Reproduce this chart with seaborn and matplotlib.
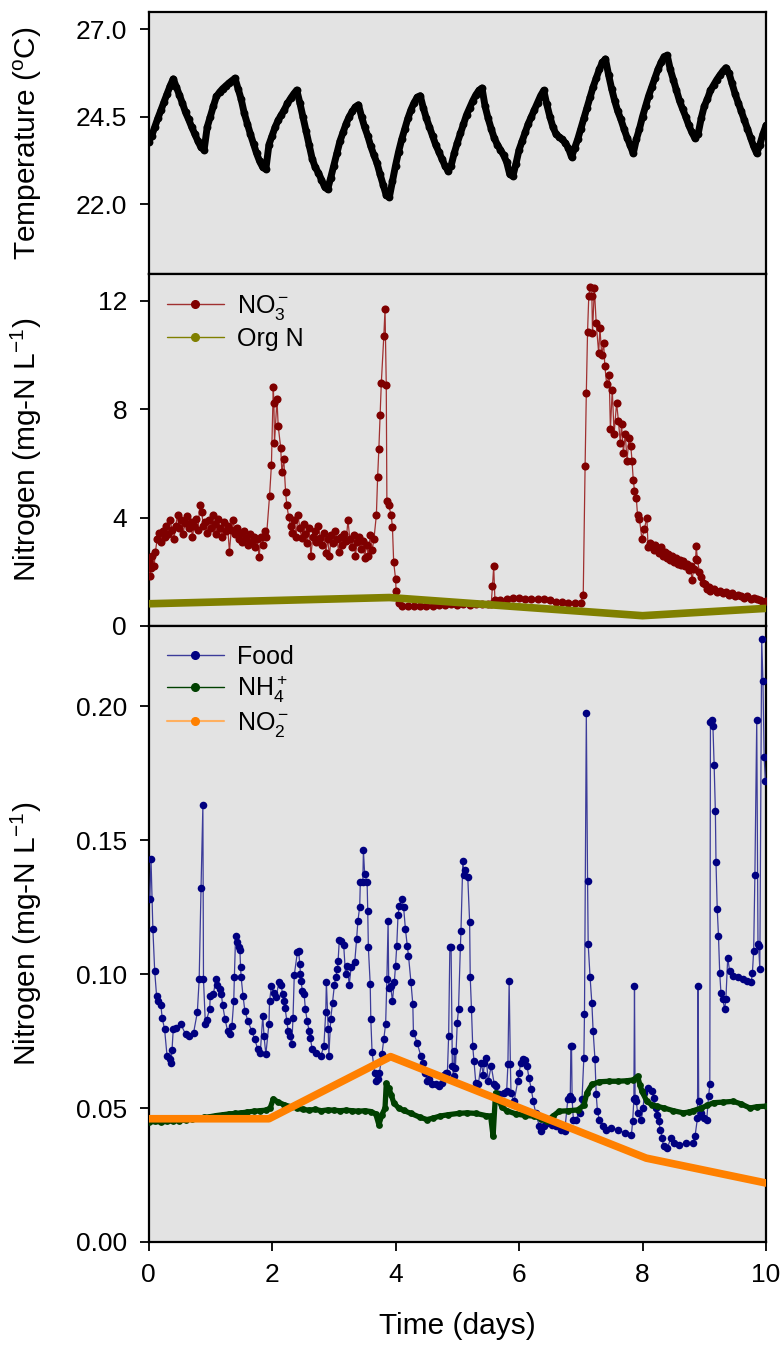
import matplotlib
matplotlib.use("Agg")
import matplotlib.pyplot as plt
import seaborn as sns
from matplotlib.lines import Line2D
from matplotlib.ticker import FormatStrFormatter

# ---------------- data ----------------
temp_step_days = 0.05
temp_c = [
    23.78, 23.95, 24.2, 24.45, 24.68, 24.92, 25.15, 25.38, 25.58, 25.35, 25.12, 24.88, 24.62, 24.42, 24.2, 24.0, 23.8, 23.62, 23.55, 24.2,
    24.5, 24.8, 25.08, 25.2, 25.3, 25.38, 25.46, 25.53, 25.6, 25.3, 25.0, 24.6, 24.3, 24.0, 23.72, 23.45, 23.22, 23.05, 23.0, 23.7,
    23.95, 24.2, 24.4, 24.55, 24.7, 24.88, 25.02, 25.15, 25.26, 24.9, 24.5, 24.1, 23.7, 23.3, 23.05, 22.9, 22.7, 22.5, 22.42, 22.75,
    23.1, 23.45, 23.8, 24.05, 24.3, 24.5, 24.65, 24.78, 24.84, 24.5, 24.2, 23.95, 23.65, 23.4, 23.17, 22.85, 22.55, 22.25, 22.2, 22.65,
    23.1, 23.5, 23.85, 24.15, 24.45, 24.7, 24.9, 25.05, 25.1, 24.75, 24.45, 24.2, 23.95, 23.7, 23.5, 23.3, 23.1, 22.95, 23.1, 23.45,
    23.75, 24.02, 24.3, 24.55, 24.75, 24.95, 25.12, 25.25, 25.32, 24.8, 24.45, 24.15, 23.88, 23.7, 23.55, 23.4, 23.2, 22.85, 22.8, 23.15,
    23.55, 23.8, 24.05, 24.3, 24.5, 24.7, 24.9, 25.1, 25.25, 24.85, 24.5, 24.2, 24.0, 23.92, 23.85, 23.75, 23.6, 23.35, 23.6, 23.85,
    24.15, 24.45, 24.75, 25.05, 25.35, 25.6, 25.85, 26.05, 26.15, 25.7, 25.3, 24.95, 24.65, 24.42, 24.15, 23.9, 23.68, 23.45, 23.85, 24.15,
    24.5, 24.8, 25.1, 25.35, 25.6, 25.85, 26.05, 26.22, 26.25, 25.85, 25.55, 25.25, 24.95, 24.72, 24.5, 24.25, 24.05, 23.88, 24.0, 24.45,
    24.8, 25.0, 25.25, 25.4, 25.55, 25.68, 25.8, 25.9, 25.75, 25.45, 25.15, 24.9, 24.65, 24.4, 24.15, 23.9, 23.65, 23.45, 23.7, 24.0,
    24.25,
]
temp_day = [round(i * temp_step_days, 2) for i in range(len(temp_c))]

no3_points = [
    (0.00, 2.4), (0.02, 1.84), (0.04, 2.13), (0.06, 2.6), (0.09, 2.2), (0.11, 2.73), (0.14, 3.2), (0.17, 3.45),
    (0.20, 3.1), (0.23, 3.5), (0.26, 3.3), (0.29, 3.7), (0.32, 3.4), (0.35, 3.9), (0.38, 3.55), (0.41, 3.2),
    (0.44, 3.7), (0.47, 4.1), (0.50, 3.6), (0.53, 3.9), (0.56, 3.4), (0.59, 3.8), (0.62, 4.05), (0.65, 3.6),
    (0.68, 3.85), (0.71, 3.3), (0.74, 3.7), (0.77, 3.95), (0.80, 3.55), (0.83, 4.45), (0.86, 4.2), (0.89, 3.7),
    (0.92, 3.85), (0.95, 3.45), (0.98, 3.9), (1.01, 3.6), (1.04, 4.1), (1.07, 3.75), (1.10, 3.4), (1.13, 3.95),
    (1.16, 3.6), (1.19, 3.3), (1.22, 3.85), (1.25, 3.5), (1.28, 3.7), (1.31, 2.75), (1.34, 3.55), (1.37, 3.9),
    (1.40, 3.4), (1.43, 3.6), (1.46, 3.2), (1.49, 3.45), (1.52, 3.1), (1.55, 3.5), (1.58, 3.25), (1.61, 3.0),
    (1.64, 3.4), (1.67, 3.1), (1.70, 3.3), (1.73, 2.9), (1.76, 3.2), (1.79, 2.55), (1.82, 3.3), (1.85, 3.0),
    (1.88, 3.5), (1.91, 3.3), (1.96, 4.81), (1.99, 5.94), (2.02, 8.83), (2.03, 8.24), (2.04, 6.77), (2.08, 8.37),
    (2.10, 7.38), (2.14, 6.59), (2.16, 5.67), (2.19, 6.16), (2.22, 4.93), (2.24, 4.45), (2.27, 4.02), (2.30, 3.7),
    (2.33, 3.45), (2.36, 3.9), (2.39, 3.3), (2.42, 4.1), (2.45, 3.6), (2.48, 3.25), (2.51, 3.75), (2.54, 3.4),
    (2.57, 3.05), (2.60, 3.6), (2.63, 2.6), (2.66, 3.3), (2.69, 3.5), (2.72, 3.1), (2.75, 3.7), (2.78, 3.25),
    (2.81, 3.0), (2.84, 3.45), (2.87, 2.7), (2.90, 3.2), (2.93, 2.6), (2.96, 3.35), (2.99, 3.05), (3.02, 3.5),
    (3.05, 3.2), (3.08, 2.75), (3.11, 3.3), (3.14, 3.0), (3.17, 3.4), (3.20, 3.15), (3.23, 3.9), (3.26, 3.2),
    (3.29, 2.9), (3.32, 3.35), (3.35, 2.6), (3.38, 3.1), (3.41, 3.3), (3.44, 2.85), (3.47, 3.15), (3.50, 2.5),
    (3.53, 3.0), (3.56, 2.6), (3.59, 3.35), (3.62, 2.8), (3.65, 3.2), (3.69, 4.1), (3.71, 5.49), (3.73, 6.53),
    (3.75, 7.79), (3.77, 8.98), (3.81, 10.69), (3.83, 11.69), (3.85, 8.88), (3.86, 4.63), (3.89, 4.45), (3.93, 4.08),
    (3.95, 3.65), (3.97, 2.36), (4.00, 1.75), (4.01, 1.30), (4.05, 0.85), (4.10, 0.75), (4.20, 0.72), (4.30, 0.75),
    (4.40, 0.72), (4.50, 0.75), (4.60, 0.74), (4.70, 0.76), (4.80, 0.78), (4.90, 0.8), (5.00, 0.78), (5.10, 0.8),
    (5.20, 0.79), (5.30, 0.8), (5.40, 0.82), (5.50, 0.8), (5.55, 0.82), (5.57, 1.47), (5.59, 2.2), (5.61, 0.95),
    (5.70, 0.95), (5.80, 1.0), (5.90, 1.02), (6.00, 1.02), (6.10, 1.0), (6.20, 1.0), (6.30, 0.98), (6.40, 0.98),
    (6.50, 0.95), (6.60, 0.9), (6.70, 0.88), (6.80, 0.85), (6.90, 0.85), (7.00, 0.85), (7.04, 1.16), (7.07, 5.89),
    (7.09, 8.61), (7.11, 10.87), (7.13, 12.19), (7.15, 12.53), (7.18, 12.19), (7.19, 10.81), (7.22, 12.47), (7.25, 11.18),
    (7.29, 10.08), (7.31, 11.0), (7.34, 10.0), (7.37, 10.45), (7.39, 9.59), (7.42, 8.92), (7.46, 9.26), (7.48, 7.26),
    (7.51, 8.73), (7.54, 7.08), (7.58, 8.24), (7.61, 7.57), (7.64, 6.77), (7.66, 7.45), (7.69, 6.40), (7.72, 7.08),
    (7.75, 6.10), (7.78, 6.95), (7.81, 6.65), (7.83, 6.10), (7.85, 5.40), (7.87, 5.00), (7.90, 4.71), (7.92, 4.08),
    (7.95, 3.95), (7.99, 3.22), (8.03, 3.59), (8.07, 4.00), (8.09, 2.91), (8.12, 3.05), (8.15, 3.0), (8.18, 2.8),
    (8.21, 3.0), (8.24, 2.85), (8.27, 2.7), (8.30, 2.9), (8.33, 2.6), (8.36, 2.75), (8.39, 2.5), (8.42, 2.65),
    (8.45, 2.45), (8.48, 2.6), (8.51, 2.35), (8.54, 2.5), (8.57, 2.3), (8.60, 2.45), (8.63, 2.25), (8.66, 2.4),
    (8.69, 2.2), (8.72, 2.3), (8.75, 2.05), (8.78, 2.2), (8.80, 1.69), (8.83, 2.1), (8.86, 2.48), (8.87, 2.94),
    (8.89, 2.45), (8.92, 2.0), (8.95, 1.8), (8.98, 1.6), (9.01, 1.55), (9.04, 1.35), (9.07, 1.45), (9.10, 1.3),
    (9.15, 1.35), (9.20, 1.25), (9.25, 1.3), (9.30, 1.2), (9.35, 1.25), (9.40, 1.15), (9.45, 1.2), (9.50, 1.1),
    (9.55, 1.15), (9.60, 1.1), (9.65, 1.05), (9.70, 1.1), (9.75, 1.0), (9.80, 1.05), (9.85, 1.0), (9.90, 0.95),
    (9.95, 0.9), (10.00, 0.92),
]
orgn_day = [0.0, 3.9, 8.0, 10.0]
orgn_val = [0.82, 1.05, 0.38, 0.65]

food_points = [
    (0.02, 0.128), (0.04, 0.143), (0.07, 0.117), (0.10, 0.101), (0.13, 0.092), (0.16, 0.090), (0.20, 0.0884), (0.22, 0.0838),
    (0.26, 0.0794), (0.30, 0.0694), (0.34, 0.0682), (0.36, 0.0667), (0.38, 0.0715), (0.40, 0.0794), (0.44, 0.080), (0.52, 0.0815),
    (0.60, 0.0775), (0.65, 0.0769), (0.73, 0.0782), (0.79, 0.0857), (0.82, 0.098), (0.85, 0.132), (0.88, 0.163), (0.89, 0.098),
    (0.92, 0.0815), (0.94, 0.083), (0.99, 0.0869), (1.00, 0.092), (1.05, 0.0925), (1.09, 0.098), (1.11, 0.096), (1.15, 0.0944),
    (1.18, 0.0925), (1.20, 0.0884), (1.24, 0.0831), (1.28, 0.0788), (1.32, 0.0775), (1.35, 0.0806), (1.38, 0.090), (1.39, 0.0988),
    (1.41, 0.1144), (1.44, 0.112), (1.46, 0.110), (1.48, 0.109), (1.49, 0.1025), (1.50, 0.0988), (1.53, 0.0919), (1.56, 0.0863),
    (1.61, 0.0825), (1.67, 0.0788), (1.72, 0.0757), (1.77, 0.0719), (1.81, 0.0707), (1.85, 0.0844), (1.87, 0.0769), (1.90, 0.070),
    (1.95, 0.0815), (1.96, 0.090), (1.99, 0.0954), (2.03, 0.093), (2.07, 0.0915), (2.11, 0.0971), (2.15, 0.0959), (2.17, 0.0925),
    (2.20, 0.090), (2.21, 0.0875), (2.24, 0.0825), (2.26, 0.0788), (2.29, 0.0769), (2.32, 0.0738), (2.34, 0.0838), (2.36, 0.0996),
    (2.41, 0.1081), (2.43, 0.1087), (2.45, 0.1037), (2.46, 0.100), (2.47, 0.0975), (2.49, 0.0938), (2.52, 0.0925), (2.54, 0.0869),
    (2.57, 0.0825), (2.60, 0.0788), (2.62, 0.0763), (2.65, 0.0719), (2.71, 0.0707), (2.79, 0.0694), (2.84, 0.0732), (2.87, 0.0860),
    (2.88, 0.0971), (2.91, 0.0794), (2.92, 0.0694), (2.95, 0.0831), (2.98, 0.0894), (3.01, 0.0959), (3.03, 0.0988), (3.06, 0.1019),
    (3.07, 0.1050), (3.09, 0.1129), (3.12, 0.1125), (3.16, 0.1110), (3.19, 0.100), (3.22, 0.1031), (3.25, 0.0959), (3.28, 0.1025),
    (3.34, 0.1046), (3.37, 0.1131), (3.39, 0.1197), (3.42, 0.1252), (3.43, 0.1343), (3.47, 0.1343), (3.48, 0.1462), (3.50, 0.1375),
    (3.54, 0.1343), (3.55, 0.1237), (3.56, 0.110), (3.59, 0.0963), (3.60, 0.0831), (3.62, 0.0709), (3.66, 0.0632), (3.69, 0.060),
    (3.72, 0.0607), (3.74, 0.0632), (3.78, 0.070), (3.81, 0.0757), (3.84, 0.0815), (3.86, 0.098), (3.88, 0.120), (3.89, 0.095),
    (3.92, 0.0957), (3.95, 0.090), (3.98, 0.0969), (4.00, 0.1031), (4.02, 0.1106), (4.04, 0.1219), (4.06, 0.1256), (4.10, 0.1279),
    (4.13, 0.1252), (4.16, 0.1169), (4.19, 0.1106), (4.21, 0.1069), (4.25, 0.0969), (4.28, 0.0888), (4.29, 0.0782), (4.35, 0.0744),
    (4.41, 0.0694), (4.45, 0.0669), (4.48, 0.0632), (4.51, 0.060), (4.55, 0.0607), (4.59, 0.0588), (4.65, 0.0588), (4.70, 0.0582),
    (4.76, 0.0594), (4.79, 0.0625), (4.81, 0.0632), (4.84, 0.0632), (4.86, 0.0769), (4.88, 0.110), (4.90, 0.110), (4.92, 0.0657),
    (4.94, 0.0619), (4.95, 0.0713), (4.97, 0.065), (5.00, 0.0819), (5.02, 0.0869), (5.05, 0.110), (5.06, 0.1162), (5.09, 0.1424),
    (5.11, 0.1371), (5.12, 0.139), (5.17, 0.1362), (5.20, 0.1196), (5.21, 0.0988), (5.23, 0.0869), (5.25, 0.0732), (5.27, 0.0675),
    (5.30, 0.0594), (5.34, 0.0588), (5.39, 0.0669), (5.42, 0.0625), (5.44, 0.0669), (5.47, 0.0688), (5.50, 0.060), (5.55, 0.0657),
    (5.60, 0.0588), (5.63, 0.0582), (5.68, 0.0551), (5.76, 0.0557), (5.80, 0.0563), (5.82, 0.0663), (5.84, 0.0975), (5.86, 0.0663),
    (5.87, 0.0557), (5.92, 0.0525), (5.98, 0.060), (6.00, 0.0632), (6.03, 0.0669), (6.07, 0.0684), (6.10, 0.068), (6.13, 0.0657),
    (6.16, 0.0613), (6.20, 0.057), (6.23, 0.0525), (6.27, 0.0482), (6.33, 0.0432), (6.35, 0.0413), (6.41, 0.0432), (6.46, 0.0444),
    (6.54, 0.0438), (6.60, 0.0432), (6.68, 0.0419), (6.74, 0.0413), (6.79, 0.0532), (6.83, 0.0544), (6.84, 0.0732), (6.85, 0.0732),
    (6.86, 0.0532), (6.88, 0.0457), (6.92, 0.0457), (6.98, 0.0482), (7.02, 0.0532), (7.05, 0.0688), (7.06, 0.085), (7.09, 0.1974),
    (7.11, 0.1349), (7.12, 0.1112), (7.15, 0.0991), (7.18, 0.0891), (7.20, 0.0788), (7.23, 0.0682), (7.25, 0.0551), (7.27, 0.0488),
    (7.30, 0.0457), (7.36, 0.0432), (7.41, 0.0419), (7.49, 0.0425), (7.60, 0.0419), (7.71, 0.0407), (7.82, 0.040), (7.84, 0.045),
    (7.86, 0.0532), (7.87, 0.0954), (7.88, 0.0538), (7.90, 0.0525), (7.92, 0.0482), (7.98, 0.0457), (8.01, 0.050), (8.03, 0.0557),
    (8.09, 0.0576), (8.15, 0.0563), (8.18, 0.0538), (8.22, 0.050), (8.23, 0.0475), (8.26, 0.045), (8.29, 0.0419), (8.32, 0.0388),
    (8.34, 0.0357), (8.40, 0.035), (8.46, 0.0388), (8.51, 0.0369), (8.59, 0.0363), (8.70, 0.0369), (8.81, 0.0369), (8.85, 0.0394),
    (8.89, 0.0463), (8.90, 0.0954), (8.91, 0.0525), (8.94, 0.0482), (8.99, 0.0463), (9.04, 0.0457), (9.07, 0.0544), (9.09, 0.0588),
    (9.10, 0.194), (9.12, 0.1949), (9.14, 0.1928), (9.16, 0.178), (9.18, 0.1608), (9.19, 0.1418), (9.21, 0.1243), (9.23, 0.1144),
    (9.25, 0.1006), (9.27, 0.0931), (9.30, 0.0906), (9.33, 0.0869), (9.35, 0.0906), (9.38, 0.1062), (9.41, 0.1012), (9.46, 0.0994),
    (9.54, 0.0988), (9.62, 0.098), (9.70, 0.0975), (9.76, 0.0969), (9.78, 0.1006), (9.80, 0.1087), (9.82, 0.1371), (9.85, 0.1949),
    (9.87, 0.1112), (9.88, 0.1106), (9.90, 0.1019), (9.93, 0.2252), (9.95, 0.2095), (9.97, 0.1811), (9.99, 0.1722),
]

nh4_points = [
    (0.00, 0.0447), (0.10, 0.0450), (0.20, 0.0448), (0.30, 0.0450), (0.40, 0.0452), (0.50, 0.0453), (0.60, 0.0455), (0.70, 0.0460),
    (0.80, 0.0462), (0.90, 0.0465), (1.00, 0.0468), (1.10, 0.0472), (1.20, 0.0475), (1.30, 0.0478), (1.40, 0.0480), (1.50, 0.0482),
    (1.60, 0.0485), (1.70, 0.0488), (1.80, 0.0490), (1.90, 0.0492), (1.97, 0.0500), (2.02, 0.0534), (2.10, 0.0522), (2.20, 0.0512),
    (2.30, 0.0505), (2.40, 0.0500), (2.50, 0.0495), (2.60, 0.0492), (2.70, 0.0495), (2.80, 0.0490), (2.90, 0.0493), (3.00, 0.0492),
    (3.10, 0.0490), (3.20, 0.0492), (3.30, 0.0490), (3.40, 0.0488), (3.50, 0.0490), (3.60, 0.0487), (3.68, 0.0478), (3.73, 0.0438),
    (3.78, 0.0475), (3.83, 0.0500), (3.85, 0.0592), (3.89, 0.0575), (3.93, 0.0550), (3.97, 0.0520), (4.05, 0.0500), (4.13, 0.0491),
    (4.25, 0.0480), (4.40, 0.0465), (4.51, 0.0457), (4.60, 0.0462), (4.72, 0.0470), (4.85, 0.0475), (5.02, 0.0480), (5.15, 0.0482),
    (5.30, 0.0480), (5.46, 0.0472), (5.54, 0.0470), (5.58, 0.0394), (5.62, 0.0557), (5.66, 0.0535), (5.72, 0.0505), (5.80, 0.0490),
    (5.95, 0.0478), (6.10, 0.0472), (6.25, 0.0470), (6.35, 0.0460), (6.45, 0.0450), (6.55, 0.0470), (6.65, 0.0488), (6.80, 0.0490),
    (6.95, 0.0493), (7.05, 0.0510), (7.10, 0.0557), (7.18, 0.0588), (7.30, 0.0598), (7.45, 0.0600), (7.60, 0.0600), (7.75, 0.0602),
    (7.85, 0.0605), (7.92, 0.0619), (7.96, 0.0585), (7.99, 0.0563), (8.07, 0.0525), (8.15, 0.0512), (8.23, 0.0507), (8.35, 0.0500),
    (8.50, 0.0490), (8.66, 0.0482), (8.75, 0.0485), (8.82, 0.0490), (8.95, 0.0500), (9.05, 0.0510), (9.15, 0.0520), (9.30, 0.0522),
    (9.47, 0.0525), (9.60, 0.0515), (9.74, 0.0500), (9.85, 0.0505), (10.00, 0.0507),
]

no2_day = [0.0, 1.95, 3.92, 8.06, 10.0]
no2_val = [0.046, 0.046, 0.0692, 0.0313, 0.022]

temp_ticks = [22.0, 24.5, 27.0]
n_ticks = [0, 4, 8, 12]
low_ticks = [0.00, 0.05, 0.10, 0.15, 0.20]
day_ticks = [0, 2, 4, 6, 8, 10]

no3_day = [p[0] for p in no3_points]
no3_val = [p[1] for p in no3_points]
food_day = [p[0] for p in food_points]
food_val = [p[1] for p in food_points]
nh4_day = [p[0] for p in nh4_points]
nh4_val = [p[1] for p in nh4_points]

# ---------------- style ----------------
sns.set_theme(style="white")
plt.rcParams["font.family"] = ["Liberation Sans", "DejaVu Sans"]
plt.rcParams["mathtext.fontset"] = "custom"
plt.rcParams["mathtext.rm"] = "Liberation Sans"
plt.rcParams["mathtext.it"] = "Liberation Sans:italic"
plt.rcParams["mathtext.bf"] = "Liberation Sans:bold"
for key in ("text.color", "axes.labelcolor", "xtick.color", "ytick.color", "axes.edgecolor"):
    plt.rcParams[key] = "black"

BG = "#e3e3e3"
TICK_FS = 19
LABEL_FS = 21.5
LEG_FS = 18

fig = plt.figure(figsize=(7.83, 13.52), dpi=100)
L, W = 0.1897, 0.7886
ax1 = fig.add_axes([L, 0.7973, W, 0.1940])
ax2 = fig.add_axes([L, 0.5370, W, 0.2604])
ax3 = fig.add_axes([L, 0.0814, W, 0.4556])


def series(ax, x, y, mcolor, lcolor, lw, s, z, line_alpha=1.0):
    sns.lineplot(x=x, y=y, ax=ax, color=lcolor, linewidth=lw, sort=False,
                 estimator=None, legend=False, zorder=z, alpha=line_alpha)
    if s:
        sns.scatterplot(x=x, y=y, ax=ax, color=mcolor, s=s, linewidth=0,
                        legend=False, zorder=z + 0.1)


# Temperature
series(ax1, temp_day, temp_c, "black", "black", 5.0, 32, 3)

# Nitrogen (middle)
series(ax2, no3_day, no3_val, "#7f0000", "#a03030", 0.9, 34, 3)
series(ax2, orgn_day, orgn_val, None, "#808000", 5.5, 0, 4)

# Nitrogen (bottom)
series(ax3, food_day, food_val, "#000080", "#3c3c9a", 0.9, 30, 3)
series(ax3, nh4_day, nh4_val, "#004000", "#004000", 3.8, 24, 4)
series(ax3, no2_day, no2_val, None, "#ff8000", 5.5, 0, 5)

for ax in (ax1, ax2, ax3):
    ax.set_facecolor(BG)
    ax.set_xlim(0, 10)
    ax.set_xlabel("")
    for sp in ax.spines.values():
        sp.set_color("black")
        sp.set_linewidth(1.6)
    ax.tick_params(axis="y", which="both", direction="out", length=6.5, width=1.3,
                   color="black", labelcolor="black", labelsize=TICK_FS, pad=9,
                   left=True, right=False)
    ax.tick_params(axis="x", which="both", direction="out", length=6.5, width=1.3,
                   color="black", labelcolor="black", labelsize=TICK_FS, pad=9, top=False)
    ax.grid(False)

ax1.set_ylim(20.0, 27.5)
ax1.set_yticks(temp_ticks)
ax1.yaxis.set_major_formatter(FormatStrFormatter("%.1f"))
ax1.set_ylabel(r"Temperature ($^\mathregular{o}$C)", fontsize=LABEL_FS)

ax2.set_ylim(0, 13)
ax2.set_yticks(n_ticks)
ax2.set_ylabel(r"Nitrogen (mg-N L$^{-1}$)", fontsize=LABEL_FS)

ax3.set_ylim(0, 0.23)
ax3.set_yticks(low_ticks)
ax3.yaxis.set_major_formatter(FormatStrFormatter("%.2f"))
ax3.set_ylabel(r"Nitrogen (mg-N L$^{-1}$)", fontsize=LABEL_FS)

for ax in (ax1, ax2):
    ax.tick_params(axis="x", bottom=False, labelbottom=False)
ax3.set_xticks(day_ticks)
ax3.tick_params(axis="x", bottom=True, labelbottom=True)
ax3.set_xlabel("Time (days)", fontsize=LABEL_FS, labelpad=18)

for ax in (ax1, ax2, ax3):
    ax.yaxis.set_label_coords(-0.170, 0.5)

# Legends
leg_kw = dict(loc="upper left", frameon=False, fontsize=LEG_FS, handlelength=2.25,
              handletextpad=0.55, labelspacing=0.2, borderaxespad=0.35)
h2 = [
    Line2D([0], [0], color="#a03030", lw=1.0, marker="o", markersize=5.5,
           markerfacecolor="#7f0000", markeredgecolor="#7f0000"),
    Line2D([0], [0], color="#808000", lw=1.0, marker="o", markersize=5.5,
           markerfacecolor="#808000", markeredgecolor="#808000"),
]
ax2.legend(h2, [r"NO$_3^-$", "Org N"], **leg_kw)

h3 = [
    Line2D([0], [0], color="#3c3c9a", lw=1.0, marker="o", markersize=5.5,
           markerfacecolor="#000080", markeredgecolor="#000080"),
    Line2D([0], [0], color="#004000", lw=1.0, marker="o", markersize=5.5,
           markerfacecolor="#004000", markeredgecolor="#004000"),
    Line2D([0], [0], color="#ffb060", lw=1.5, marker="o", markersize=5.5,
           markerfacecolor="#ff8000", markeredgecolor="#ff8000"),
]
ax3.legend(h3, ["Food", r"NH$_4^+$", r"NO$_2^-$"], **leg_kw)

fig.savefig("out.png", dpi=100, facecolor="white")
